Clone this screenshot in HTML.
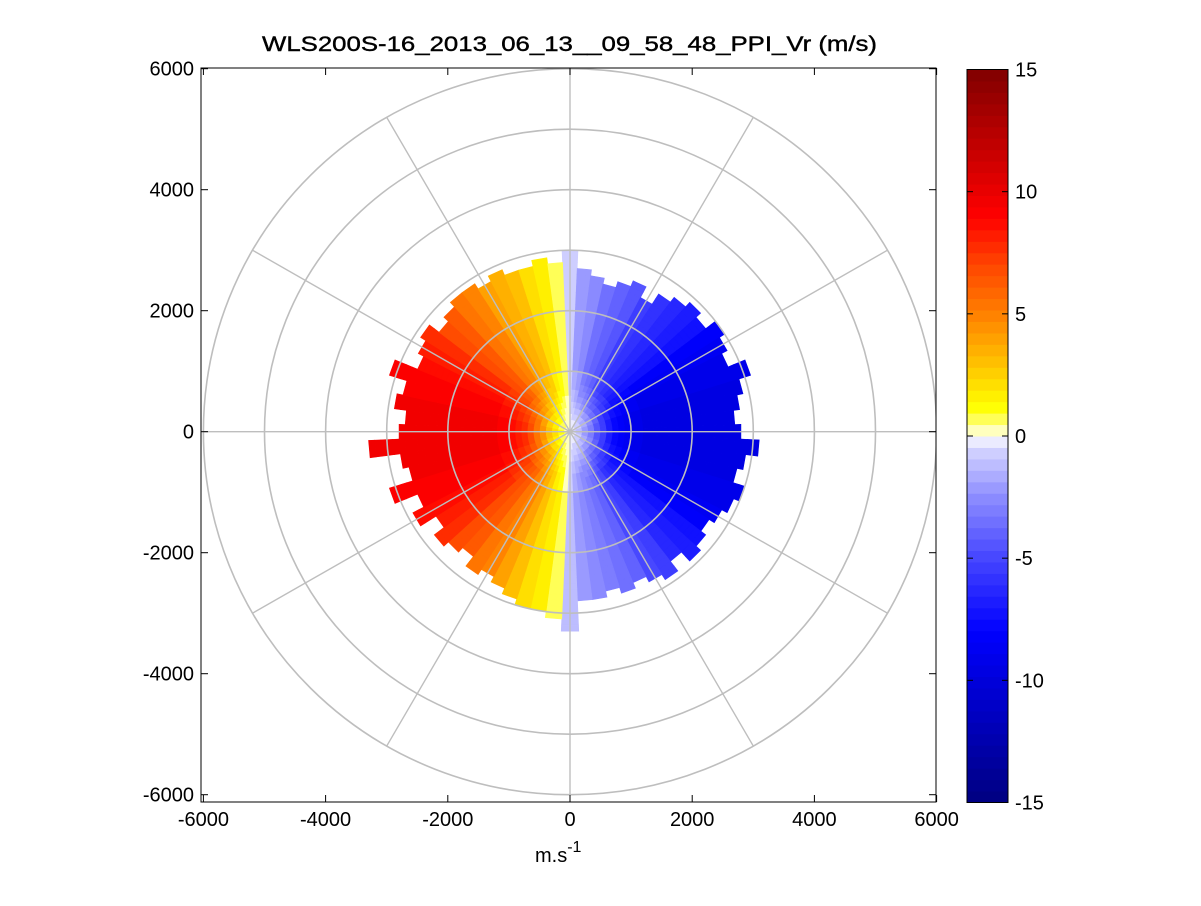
<!DOCTYPE html>
<html><head><meta charset="utf-8">
<style>
html,body{margin:0;padding:0;background:#fff;}
svg text{font-family:"Liberation Sans",Arial,sans-serif;}
</style></head>
<body>
<svg id="chart" width="1201" height="901" viewBox="0 0 1201 901" xmlns="http://www.w3.org/2000/svg">
<rect width="1201" height="901" fill="#fff"/>
<text x="262" y="51" font-size="21" textLength="615" lengthAdjust="spacingAndGlyphs" fill="#000" stroke="#000" stroke-width="0.4">WLS200S-16_2013_06_13__09_58_48_PPI_Vr (m/s)</text>
<defs><clipPath id="axclip"><rect x="201" y="68" width="735" height="734"/></clipPath></defs>
<g id="data" clip-path="url(#axclip)"></g>
<g id="grid" clip-path="url(#axclip)"></g>
<rect x="201" y="68" width="735" height="734" fill="none" stroke="#000" stroke-width="1"/>
<g id="ticks"></g>
<text x="535" y="862" font-size="20">m.s<tspan dy="-10" font-size="16">-1</tspan></text>
<g id="cbar"></g>
</svg>
<script>
// ---- data ----
const azimuths = [0,5,10,15,20,25,30,35,40,45,50,55,60,65,70,75,80,85,90,95,100,105,110,115,120,125,130,135,140,145,150,155,160,165,170,175,180,185,190,195,200,205,210,215,220,225,230,235,240,245,250,255,260,265,270,275,280,285,290,295,300,305,310,315,320,325,330,335,340,345,350,355];
const farVelocity = [-0.8,-2,-2.5,-3.5,-4,-4.5,-5.5,-6,-6.5,-7,-7.5,-8,-8.5,-9,-9,-9.5,-9.5,-9.5,-9.5,-9.5,-9.5,-9.5,-9,-9,-8.5,-8,-7.5,-7,-6.5,-5.5,-5,-4,-3.5,-3,-2.5,-2,-1,0.5,1.5,2,3,4,5,5.5,6.5,7,7.5,8,8.5,9,9,9.5,9.5,9.5,9.5,9.5,9.5,9,9,8.5,8,7.5,7,6.5,5.5,5,4,3.5,3,2,1.5,0.8];
const maxRange = [3000,2700,2600,2500,2600,2700,2500,2700,2800,2900,2800,3000,2900,2800,3100,2900,2800,2700,2800,3100,2900,2800,3000,2900,2800,2700,2800,2900,2700,2900,2800,2700,2800,2700,2800,2800,3300,3100,3000,3000,2900,2800,2700,2800,2600,2700,2800,2600,2900,2700,3100,2700,2800,3300,2800,2700,2900,2800,3100,2700,2800,2900,2700,2800,2900,2900,2800,2900,2800,2800,2900,2800];
const rangeGates = [100,200,300,400,500,600,700,800,900,1000,1100,1200,1300,1400,1500,1600,1700,1800,1900,2000,2100,2200,2300,2400,2500,2600,2700,2800,2900,3000,3100,3200,3300];
const gateFactor = [0.05,0.1,0.2,0.3,0.45,0.58,0.7,0.8,0.88,0.93,0.96,0.98,1,1,1,1,1,1,1,1,1,1,1,1,1,1,1,1,1,1,1,1,1];
const ringRadii = [1000,2000,3000,4000,5000,6000];
const spokeAngles = [0,30,60,90,120,150];
const xTicks = [-6000,-4000,-2000,0,2000,4000,6000];
const yTicks = [6000,4000,2000,0,-2000,-4000,-6000];
const cbarTicks = [15,10,5,0,-5,-10,-15];

// ---- scales ----
const CX=570, CY=431.7, KX=0.0611, KY=0.0605;
const sx = x => CX + x*KX;
const sy = y => CY - y*KY;
const polX = (r,az) => sx(r*Math.sin(az*Math.PI/180));
const polY = (r,az) => sy(r*Math.cos(az*Math.PI/180));
const CB_TOP=69.5, CB_BOT=802.5, VMIN=-15, VMAX=15;
const cy = v => CB_TOP + (VMAX-v)/(VMAX-VMIN)*(CB_BOT-CB_TOP);
const stops=[[-15,[0,0,128]],[-8,[0,0,255]],[-5,[70,70,255]],[-2.5,[140,140,255]],[-0.47,[215,215,255]],[-0.01,[255,255,255]],[0.47,[255,255,128]],[1.2,[255,255,0]],[3,[255,192,0]],[5,[255,128,0]],[7,[255,70,0]],[9,[255,0,0]],[15,[128,0,0]]];
const NLEV=64;
function color(v){
  let i=Math.floor((v-VMIN)/(VMAX-VMIN)*NLEV); i=Math.max(0,Math.min(NLEV-1,i));
  let vc=VMIN+(i+0.5)*(VMAX-VMIN)/NLEV;
  for(let k=0;k<stops.length-1;k++){
    if(vc<=stops[k+1][0]){
      const t=(vc-stops[k][0])/(stops[k+1][0]-stops[k][0]);
      const a=stops[k][1],b=stops[k+1][1];
      return 'rgb('+a.map((c,j)=>Math.round(c+(b[j]-c)*t)).join(',')+')';
    }
  }
  return 'rgb(128,0,0)';
}
const NS='http://www.w3.org/2000/svg';
function mk(tag,attrs,parent){const e=document.createElementNS(NS,tag);for(const k in attrs)e.setAttribute(k,attrs[k]);parent.appendChild(e);return e;}

// ---- cells ----
const gData=document.getElementById('data');
const dAz=5, dR=100;
azimuths.forEach((az,i)=>{
  rangeGates.forEach((r,j)=>{
    if(r>maxRange[i]) return;
    const v=farVelocity[i]*gateFactor[j];
    const r0=r-dR, a0=az-dAz/2, a1=az+dAz/2;
    const d='M'+polX(r0,a0)+','+polY(r0,a0)+'L'+polX(r,a0)+','+polY(r,a0)+'L'+polX(r,a1)+','+polY(r,a1)+'L'+polX(r0,a1)+','+polY(r0,a1)+'Z';
    const c=color(v);
    const p=mk('path',{d:d,fill:c,stroke:c,'stroke-width':0.6},gData);
    
    
  });
});

// ---- grid ----
const gGrid=document.getElementById('grid');
ringRadii.forEach(r=>{
  const e=mk('ellipse',{cx:sx(0),cy:sy(0),rx:r*KX,ry:r*KY,fill:'none',stroke:'#bebebe','stroke-width':1.6},gGrid);
  
  
});
spokeAngles.forEach(a=>{
  const R=6000;
  const l=mk('line',{x1:polX(R,a),y1:polY(R,a),x2:polX(R,a+180),y2:polY(R,a+180),stroke:'#bebebe','stroke-width':1.4},gGrid);
  
  
});

// ---- ticks ----
const gT=document.getElementById('ticks');
xTicks.forEach(t=>{
  const x=sx(t);
  mk('line',{x1:x,y1:802,x2:x,y2:795,stroke:'#000'},gT);
  mk('line',{x1:x,y1:68,x2:x,y2:75,stroke:'#000'},gT);
  const tx=mk('text',{x:x,y:826,'font-size':20,'text-anchor':'middle'},gT);
  tx.textContent=t;
  
  
});
yTicks.forEach(t=>{
  const y=sy(t);
  mk('line',{x1:201,y1:y,x2:208,y2:y,stroke:'#000'},gT);
  mk('line',{x1:936,y1:y,x2:929,y2:y,stroke:'#000'},gT);
  const ty=mk('text',{x:194,y:y+7,'font-size':20,'text-anchor':'end'},gT);
  ty.textContent=t;
  
  
});

// ---- colorbar ----
const gC=document.getElementById('cbar');
for(let i=0;i<NLEV;i++){
  const v0=VMIN+i*(VMAX-VMIN)/NLEV, v1=v0+(VMAX-VMIN)/NLEV;
  const rc=mk('rect',{x:967,y:cy(v1),width:41,height:cy(v0)-cy(v1)+0.5,fill:color(v0+0.01)},gC);
  
  
}
mk('rect',{x:967,y:CB_TOP,width:41,height:CB_BOT-CB_TOP,fill:'none',stroke:'#000'},gC);
cbarTicks.forEach(t=>{
  const y=cy(t);
  if(t!==15&&t!==-15){
    mk('line',{x1:967,y1:y,x2:973,y2:y,stroke:'#000'},gC);
    mk('line',{x1:1008,y1:y,x2:1002,y2:y,stroke:'#000'},gC);
  }
  const tl=mk('text',{x:1015,y:y+7,'font-size':20},gC);
  tl.textContent=t;
  
  
});
</script>
</body></html>
